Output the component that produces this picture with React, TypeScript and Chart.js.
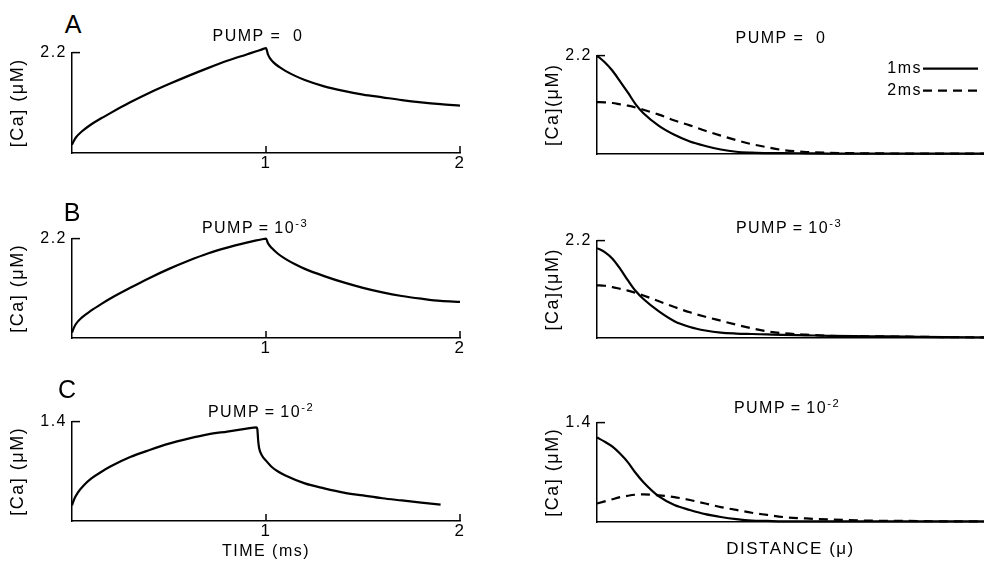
import React, { useEffect, useRef } from 'react';
import { Chart, registerables } from 'chart.js';

Chart.register(...registerables);

const FONT = '"Liberation Sans", Arial, Helvetica, sans-serif';

// ---------- Left column: [Ca] vs time (ms) ----------
const timeA = [0, 0.01, 0.02, 0.05, 0.1, 0.15, 0.2, 0.3, 0.4, 0.5, 0.6, 0.7, 0.8, 0.9, 0.95, 0.98, 1.0, 1.01, 1.02, 1.04, 1.07, 1.1, 1.15, 1.2, 1.3, 1.4, 1.5, 1.6, 1.7, 1.8, 1.9, 2.0];
const caTimeA = [0.18, 0.27, 0.34, 0.47, 0.63, 0.76, 0.88, 1.11, 1.32, 1.51, 1.69, 1.86, 2.02, 2.16, 2.23, 2.27, 2.3, 2.16, 2.08, 1.98, 1.88, 1.8, 1.69, 1.6, 1.46, 1.36, 1.28, 1.22, 1.16, 1.11, 1.07, 1.04];

const timeB = [0, 0.01, 0.02, 0.05, 0.1, 0.15, 0.2, 0.3, 0.4, 0.5, 0.6, 0.7, 0.8, 0.9, 0.95, 0.98, 1.0, 1.01, 1.03, 1.06, 1.1, 1.15, 1.2, 1.3, 1.4, 1.5, 1.6, 1.7, 1.8, 1.9, 2.0];
const caTimeB = [0.12, 0.23, 0.31, 0.45, 0.61, 0.75, 0.88, 1.11, 1.33, 1.53, 1.71, 1.87, 2.0, 2.11, 2.16, 2.185, 2.2, 2.1, 1.99, 1.87, 1.75, 1.63, 1.53, 1.37, 1.23, 1.11, 1.01, 0.93, 0.87, 0.82, 0.8];

const timeC = [0, 0.01, 0.03, 0.06, 0.1, 0.15, 0.2, 0.3, 0.4, 0.5, 0.6, 0.7, 0.8, 0.9, 0.95, 0.955, 0.96, 0.965, 0.98, 1.0, 1.03, 1.06, 1.1, 1.2, 1.3, 1.4, 1.5, 1.6, 1.7, 1.8, 1.9];
const caTimeC = [0.22, 0.3, 0.4, 0.5, 0.6, 0.69, 0.77, 0.9, 1.0, 1.09, 1.16, 1.22, 1.26, 1.3, 1.32, 1.3, 1.12, 1.02, 0.92, 0.85, 0.76, 0.7, 0.64, 0.53, 0.46, 0.4, 0.36, 0.32, 0.29, 0.26, 0.23];

const timeTicks = [1, 2];

// ---------- Right column: [Ca] vs distance (μ) ----------
const distance = [0, 0.1, 0.2, 0.3, 0.4, 0.5, 0.6, 0.8, 1.0, 1.2, 1.4, 1.6, 1.8, 2.0, 2.2, 2.4, 2.7, 3.0, 3.5, 4.0, 4.5, 5.0];

const caDistA1ms = [2.2, 2.05, 1.86, 1.62, 1.37, 1.11, 0.91, 0.63, 0.43, 0.28, 0.18, 0.1, 0.05, 0.03, 0.02, 0.02, 0.015, 0.01, 0.01, 0.01, 0.01, 0.01];
const caDistA2ms = [1.16, 1.155, 1.14, 1.11, 1.08, 1.04, 0.99, 0.88, 0.75, 0.64, 0.52, 0.41, 0.31, 0.22, 0.15, 0.09, 0.045, 0.027, 0.015, 0.01, 0.01, 0.01];

const caDistB1ms = [2.03, 1.94, 1.79, 1.56, 1.3, 1.06, 0.88, 0.6, 0.38, 0.25, 0.17, 0.12, 0.1, 0.09, 0.08, 0.07, 0.06, 0.05, 0.04, 0.03, 0.02, 0.015];
const caDistB2ms = [1.19, 1.18, 1.15, 1.11, 1.07, 1.02, 0.96, 0.83, 0.7, 0.58, 0.48, 0.39, 0.3, 0.22, 0.15, 0.11, 0.075, 0.05, 0.04, 0.03, 0.02, 0.015];

const caDistC1ms = [1.19, 1.13, 1.06, 0.96, 0.84, 0.69, 0.56, 0.36, 0.24, 0.17, 0.11, 0.07, 0.04, 0.02, 0.015, 0.01, 0.01, 0.01, 0.01, 0.01, 0.01, 0.01];
const caDistC2ms = [0.26, 0.29, 0.32, 0.35, 0.37, 0.385, 0.39, 0.375, 0.35, 0.31, 0.26, 0.21, 0.17, 0.13, 0.1, 0.07, 0.05, 0.035, 0.02, 0.015, 0.01, 0.01];

const seriesLabels = ['1ms', '2ms'];

type Series = { label: string; x: number[]; y: number[]; dash?: number[] };
type Spec = {
  box: { left: number; top: number; right: number; bottom: number };
  canvasLeft: number;
  canvasRight: number;
  padTop: number;
  xAxisH: number;
  xMax: number;
  xTicks: number[];
  xTitle?: string;
  xTitleSize?: number;
  yMax: number;
  yTicks: number[];
  yTitle: string;
  yTitlePad: number;
  series: Series[];
  legend?: boolean;
};

const DASH = [9, 6];

const decorPlugin = {
  id: 'figureDecor',
  beforeDraw(chart: any) {
    chart.ctx.letterSpacing = '1.5px';
  },
  afterDraw(chart: any, _args: any, opts: any) {
    const ctx = chart.ctx as CanvasRenderingContext2D;
    const xs = chart.scales.x;
    const ys = chart.scales.y;
    const { left, right, top, bottom } = chart.chartArea;
    ctx.save();
    ctx.strokeStyle = '#000';
    ctx.lineWidth = 1.5;
    ctx.setLineDash([]);
    (opts.yTicks || []).forEach((v: number) => {
      const py = ys.getPixelForValue(v);
      ctx.beginPath();
      ctx.moveTo(left, py);
      ctx.lineTo(left + 8, py);
      ctx.stroke();
    });
    (opts.xTicks || []).forEach((v: number) => {
      const px = xs.getPixelForValue(v);
      ctx.beginPath();
      ctx.moveTo(px, bottom);
      ctx.lineTo(px, bottom - 7);
      ctx.stroke();
    });
    if (opts.legend) {
      ctx.font = '16px ' + FONT;
      (ctx as any).letterSpacing = '1.5px';
      ctx.textAlign = 'right';
      ctx.textBaseline = 'middle';
      ctx.fillStyle = '#000';
      chart.data.datasets.forEach((ds: any, i: number) => {
        const y = top + 13 + i * 22;
        const xEnd = right - 6;
        const xStart = xEnd - 55;
        ctx.lineWidth = ds.borderWidth;
        ctx.setLineDash(ds.borderDash || []);
        ctx.beginPath();
        ctx.moveTo(xStart, y);
        ctx.lineTo(xEnd, y);
        ctx.stroke();
        ctx.fillText(ds.label, xStart - 1, y);
      });
    }
    ctx.restore();
  },
};

function canvasRect(s: Spec) {
  return {
    left: s.canvasLeft,
    top: s.box.top - s.padTop,
    width: s.canvasRight - s.canvasLeft,
    height: s.padTop + (s.box.bottom - s.box.top) + s.xAxisH,
  };
}

function Panel({ spec }: { spec: Spec }) {
  const ref = useRef<HTMLCanvasElement | null>(null);
  const r = canvasRect(spec);
  useEffect(() => {
    if (!ref.current) return;
    const s = spec;
    const chart = new Chart(ref.current, {
      type: 'line',
      data: {
        datasets: s.series.map((ser) => ({
          label: ser.label,
          data: ser.x.map((x, i) => ({ x, y: ser.y[i] })),
          borderColor: '#000',
          borderWidth: 2.2,
          borderDash: ser.dash || [],
          pointRadius: 0,
          fill: false,
          cubicInterpolationMode: 'monotone',
          clip: false,
        })),
      },
      options: {
        responsive: false,
        animation: false,
        events: [],
        layout: {
          padding: { left: 0, right: s.canvasRight - s.box.right, top: s.padTop, bottom: 0 },
        },
        plugins: {
          legend: { display: false },
          tooltip: { enabled: false },
          title: { display: false },
          figureDecor: { yTicks: s.yTicks, xTicks: s.xTicks, legend: !!s.legend },
        } as any,
        scales: {
          x: {
            type: 'linear',
            min: 0,
            max: s.xMax,
            position: 'bottom',
            grid: { display: false, drawTicks: false },
            border: { display: true, color: '#000', width: 1.5 },
            ticks: {
              display: s.xTicks.length > 0,
              color: '#000',
              font: { size: 17, family: FONT },
              padding: 0,
              maxRotation: 0,
              callback: (v: any) => String(v),
            },
            afterBuildTicks: (sc: any) => {
              sc.ticks = s.xTicks.map((v) => ({ value: v }));
            },
            afterFit: (sc: any) => {
              sc.height = s.xAxisH;
            },
            title: s.xTitle
              ? { display: true, text: s.xTitle, color: '#000', font: { size: s.xTitleSize || 16, family: FONT }, padding: { top: 0, bottom: 0 } }
              : { display: false },
          },
          y: {
            type: 'linear',
            min: 0,
            max: s.yMax,
            grid: { display: false, drawTicks: false },
            border: { display: true, color: '#000', width: 1.5 },
            ticks: {
              color: '#000',
              font: { size: 16, family: FONT },
              padding: 5,
              callback: (v: any) => String(v),
            },
            afterBuildTicks: (sc: any) => {
              sc.ticks = s.yTicks.map((v) => ({ value: v }));
            },
            afterFit: (sc: any) => {
              sc.width = s.box.left - s.canvasLeft;
            },
            title: {
              display: true,
              text: s.yTitle,
              color: '#000',
              font: { size: 18, family: FONT },
              padding: { top: s.yTitlePad, bottom: 0 },
            },
          },
        },
      } as any,
      plugins: [decorPlugin as any],
    });
    return () => chart.destroy();
  }, [spec]);
  return (
    <canvas
      ref={ref}
      width={r.width}
      height={r.height}
      style={{ position: 'absolute', left: r.left, top: r.top, width: r.width, height: r.height, display: 'block' }}
    />
  );
}

const leftBase = { canvasLeft: 0, canvasRight: 480, padTop: 14, xMax: 2, xTicks: timeTicks, yTitlePad: 7 };
const rightBase = { canvasLeft: 537, canvasRight: 984, padTop: 14, xMax: 5, xTicks: [] as number[], yTitlePad: 5 };

const panels: Spec[] = [
  {
    ...leftBase,
    box: { left: 72, top: 52, right: 460, bottom: 153 },
    xAxisH: 30,
    yMax: 2.2,
    yTicks: [2.2],
    yTitle: '[Ca] (μM)',
    series: [{ label: 'PUMP = 0', x: timeA, y: caTimeA }],
  },
  {
    ...leftBase,
    box: { left: 72, top: 238, right: 460, bottom: 338 },
    xAxisH: 30,
    yMax: 2.2,
    yTicks: [2.2],
    yTitle: '[Ca] (μM)',
    series: [{ label: 'PUMP = 1e-3', x: timeB, y: caTimeB }],
  },
  {
    ...leftBase,
    box: { left: 72, top: 421, right: 460, bottom: 521 },
    xAxisH: 40,
    xTitle: 'TIME (ms)',
    xTitleSize: 16,
    yMax: 1.4,
    yTicks: [1.4],
    yTitle: '[Ca] (μM)',
    series: [{ label: 'PUMP = 1e-2', x: timeC, y: caTimeC }],
  },
  {
    ...rightBase,
    box: { left: 597, top: 55, right: 984, bottom: 154 },
    xAxisH: 30,
    yMax: 2.2,
    yTicks: [2.2],
    yTitle: '[Ca](μM)',
    legend: true,
    series: [
      { label: seriesLabels[0], x: distance, y: caDistA1ms },
      { label: seriesLabels[1], x: distance, y: caDistA2ms, dash: DASH },
    ],
  },
  {
    ...rightBase,
    box: { left: 597, top: 240, right: 984, bottom: 338 },
    xAxisH: 30,
    yMax: 2.2,
    yTicks: [2.2],
    yTitle: '[Ca](μM)',
    series: [
      { label: seriesLabels[0], x: distance, y: caDistB1ms },
      { label: seriesLabels[1], x: distance, y: caDistB2ms, dash: DASH },
    ],
  },
  {
    ...rightBase,
    box: { left: 597, top: 422, right: 984, bottom: 522 },
    xAxisH: 38,
    xTitle: 'DISTANCE (μ)',
    xTitleSize: 17,
    yMax: 1.4,
    yTicks: [1.4],
    yTitle: '[Ca] (μM)',
    series: [
      { label: seriesLabels[0], x: distance, y: caDistC1ms },
      { label: seriesLabels[1], x: distance, y: caDistC2ms, dash: DASH },
    ],
  },
];

type Label = { cx: number; cy: number; text: string; sup?: string; size: number; spacing: number };

const labels: Label[] = [
  { cx: 73, cy: 24, text: 'A', size: 25, spacing: 0 },
  { cx: 72, cy: 212, text: 'B', size: 25, spacing: 0 },
  { cx: 67, cy: 389, text: 'C', size: 25, spacing: 0 },
  { cx: 258, cy: 36, text: 'PUMP = \u00a00', size: 16, spacing: 1.5 },
  { cx: 255, cy: 228, text: 'PUMP\u2009=\u200910', sup: '-3', size: 16, spacing: 1.5 },
  { cx: 261, cy: 412, text: 'PUMP\u2009=\u200910', sup: '-2', size: 16, spacing: 1.5 },
  { cx: 781, cy: 38, text: 'PUMP = \u00a00', size: 16, spacing: 1.5 },
  { cx: 789, cy: 228, text: 'PUMP\u2009=\u200910', sup: '-3', size: 16, spacing: 1.5 },
  { cx: 787, cy: 408, text: 'PUMP\u2009=\u200910', sup: '-2', size: 16, spacing: 1.5 },
];

export default function App() {
  return (
    <div style={{ position: 'absolute', left: 0, top: 0, width: 984, height: 567, background: '#fff', overflow: 'hidden' }}>
      {panels.map((p, i) => (
        <Panel key={i} spec={p} />
      ))}
      {labels.map((l, i) => (
        <div
          key={'l' + i}
          style={{
            position: 'absolute',
            left: l.cx,
            top: l.cy,
            transform: 'translate(-50%, -50%)',
            fontFamily: FONT,
            fontSize: l.size,
            letterSpacing: l.spacing,
            lineHeight: 1,
            whiteSpace: 'pre',
            color: '#000',
          }}
        >
          {l.text}
          {l.sup ? (
            <span style={{ fontSize: '0.7em', position: 'relative', top: '-0.55em' }}>{l.sup}</span>
          ) : null}
        </div>
      ))}
    </div>
  );
}
